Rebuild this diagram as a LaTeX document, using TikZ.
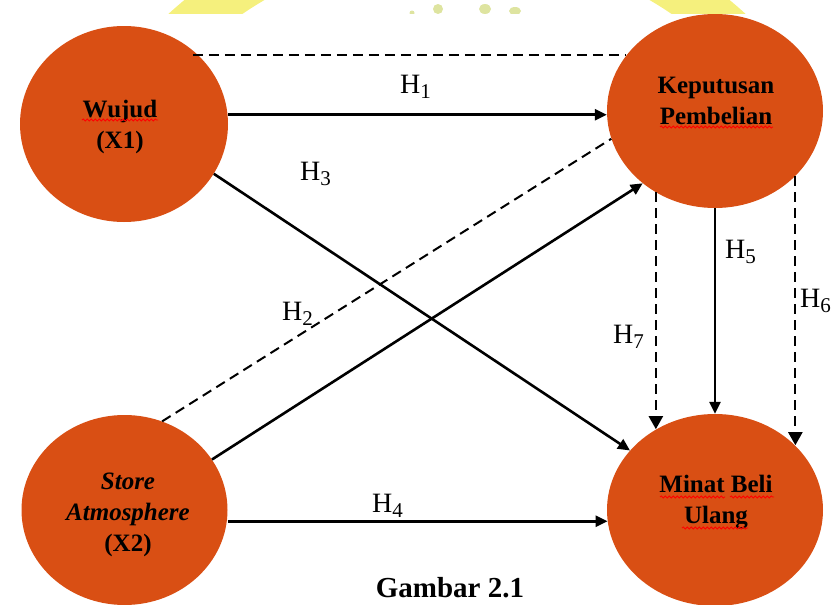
\documentclass[tikz,border=0pt]{standalone}
\usepackage{fontspec}
\setmainfont{Liberation Serif}
\usetikzlibrary{arrows.meta,shapes.geometric,decorations.pathmorphing}
\definecolor{nodeorange}{RGB}{217,79,20}
\definecolor{wmyellow}{RGB}{245,240,125}
\definecolor{wmgreen}{RGB}{222,228,160}
\newcommand\hsub[1]{\raisebox{-0.2em}{\fontsize{21}{21}\selectfont #1}}
\begin{document}
\begin{tikzpicture}[x=1pt,y=-1pt,
  ell/.style={ellipse, fill=nodeorange, draw=none, inner sep=0pt},
  lbl/.style={font=\fontsize{25}{31}\selectfont\bfseries, align=center, inner sep=0pt},
  hyp/.style={font=\fontsize{28}{30}\selectfont, inner sep=0pt, anchor=base west},
  conn/.style={line width=2.6pt, -{Triangle[length=12pt,width=11pt]}},
  dconn/.style={line width=2.2pt, dash pattern=on 10pt off 6pt, -{Triangle[length=13pt,width=14pt]}},
  dline/.style={line width=2pt, dash pattern=on 10pt off 6pt},
  squig/.style={draw=red, line width=0.8pt, decorate, decoration={snake, amplitude=1.1pt, segment length=4pt}}
]
\useasboundingbox (0,0) rectangle (831,605);

% faint watermark at the top edge
\begin{scope}
  \clip (0,0) rectangle (831,13);
  \fill[wmyellow, even odd rule] (457,330) circle[radius=428] (457,330) circle[radius=382];
  \fill[wmgreen] (412,13) circle[radius=2.5];
  \fill[wmgreen] (438,9) ellipse[x radius=5, y radius=5];
  \fill[wmgreen] (485,9) ellipse[x radius=6, y radius=5];
  \fill[wmgreen] (515,11) ellipse[x radius=6, y radius=4];
\end{scope}

% nodes
\node[ell, minimum width=208pt, minimum height=196pt] (w) at (124,124) {};
\node[ell, minimum width=216pt, minimum height=194pt] (k) at (715,111) {};
\node[ell, minimum width=206pt, minimum height=190pt] (s) at (124.5,510) {};
\node[ell, minimum width=216pt, minimum height=192pt] (m) at (715,510) {};

\node[lbl] (wt) at (120,127) {Wujud\\(X1)};
\node[lbl] (kt) at (716,101) {Keputusan\\Pembelian};
\node[lbl] (st) at (128,515) {\textit{Store}\\\textit{Atmosphere}\\(X2)};
\node[lbl] (mt) at (716,502) {Minat Beli\\Ulang};

% spell-check underlines
\path[squig] (82,120) -- (158,120);
\path[squig] (660,127) -- (773,127);
\path[squig] (660,497) -- (725,497);
\path[squig] (730,497) -- (774,497);
\path[squig] (682,528) -- (748,528);

% connectors
\draw[dline] (w.47 |- k.148) -- (k.148);
\draw[conn] (w.east |- k.182) -- (k.182);
\draw[conn] (w.-29) -- (m.145);
\draw[dline] (s.67) -- (k.195);
\draw[conn] (s.30) -- (k.225);
\draw[conn] (s.east |- m.186) -- (m.186);
\draw[conn] (k.south) -- (m.north);
\draw[dconn] (k.234) -- (k.234 |- m.126);
\draw[dconn] (k.-39) -- (k.-39 |- m.39);

% labels
\node[hyp] (h1) at (400,93) {H\hsub{1}};
\node[hyp] (h3) at (300,180) {H\hsub{3}};
\node[hyp] (h2) at (282,320) {H\hsub{2}};
\node[hyp] (h4) at (372,512) {H\hsub{4}};
\node[hyp] (h5) at (725,258) {H\hsub{5}};
\node[hyp] (h6) at (800,307) {H\hsub{6}};
\node[hyp] (h7) at (613,343) {H\hsub{7}};

\node[anchor=base, font=\fontsize{29}{30}\selectfont\bfseries, inner sep=0pt] (cap) at (450,597) {Gambar 2.1};
\end{tikzpicture}
\end{document}
